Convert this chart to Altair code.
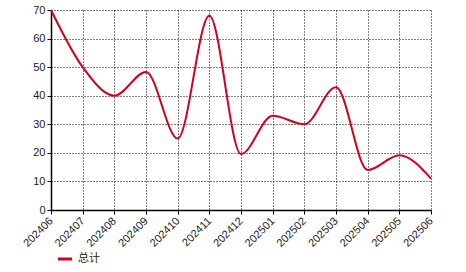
import altair as alt
import pandas as pd

months = ["202406", "202407", "202408", "202409", "202410", "202411", "202412",
          "202501", "202502", "202503", "202504", "202505", "202506"]
values = [70, 50, 40, 48.3, 25, 68, 19.6, 33, 30, 43, 14, 19.2, 11]
series = ["总计"] * len(months)

df = pd.DataFrame({"month": months, "value": values, "series": series})

chart = alt.Chart(df).mark_line(interpolate="monotone", strokeWidth=2).encode(
    x=alt.X("month:O", sort=months, title=None,
            scale=alt.Scale(type="point", padding=0),
            axis=alt.Axis(labelAngle=-45, labelAlign="right", labelBaseline="middle",
                          labelFont="Liberation Sans", labelFontSize=11, labelColor="#222",
                          domainColor="black", domainWidth=1.5, tickColor="black", tickSize=4,
                          grid=True, gridColor="black", gridDash=[1, 2], gridWidth=1,
                          labelPadding=5)),
    y=alt.Y("value:Q", title=None,
            scale=alt.Scale(domain=[0, 70], nice=False),
            axis=alt.Axis(values=list(range(0, 71, 10)), labelFont="Liberation Sans",
                          labelFontSize=11, labelColor="#222", labelPadding=2,
                          domainColor="black", domainWidth=1.5, tickColor="black", tickSize=4,
                          grid=True, gridColor="black", gridDash=[1, 2], gridWidth=1)),
    color=alt.Color("series:N", scale=alt.Scale(range=["#d0021b"]),
                    legend=alt.Legend(title=None, orient="none", legendX=5, legendY=240,
                                      symbolType="stroke", symbolStrokeWidth=3, symbolSize=200,
                                      labelFont="Noto Sans CJK SC", labelFontSize=11,
                                      labelColor="#222")),
).properties(
    width=380, height=200,
    padding={"left": 51, "top": 10, "right": 35, "bottom": 62},
    autosize=alt.AutoSizeParams(type="none"),
).configure_view(stroke=None)

chart.save("out.html", embed_options={"renderer": "svg", "actions": False})
